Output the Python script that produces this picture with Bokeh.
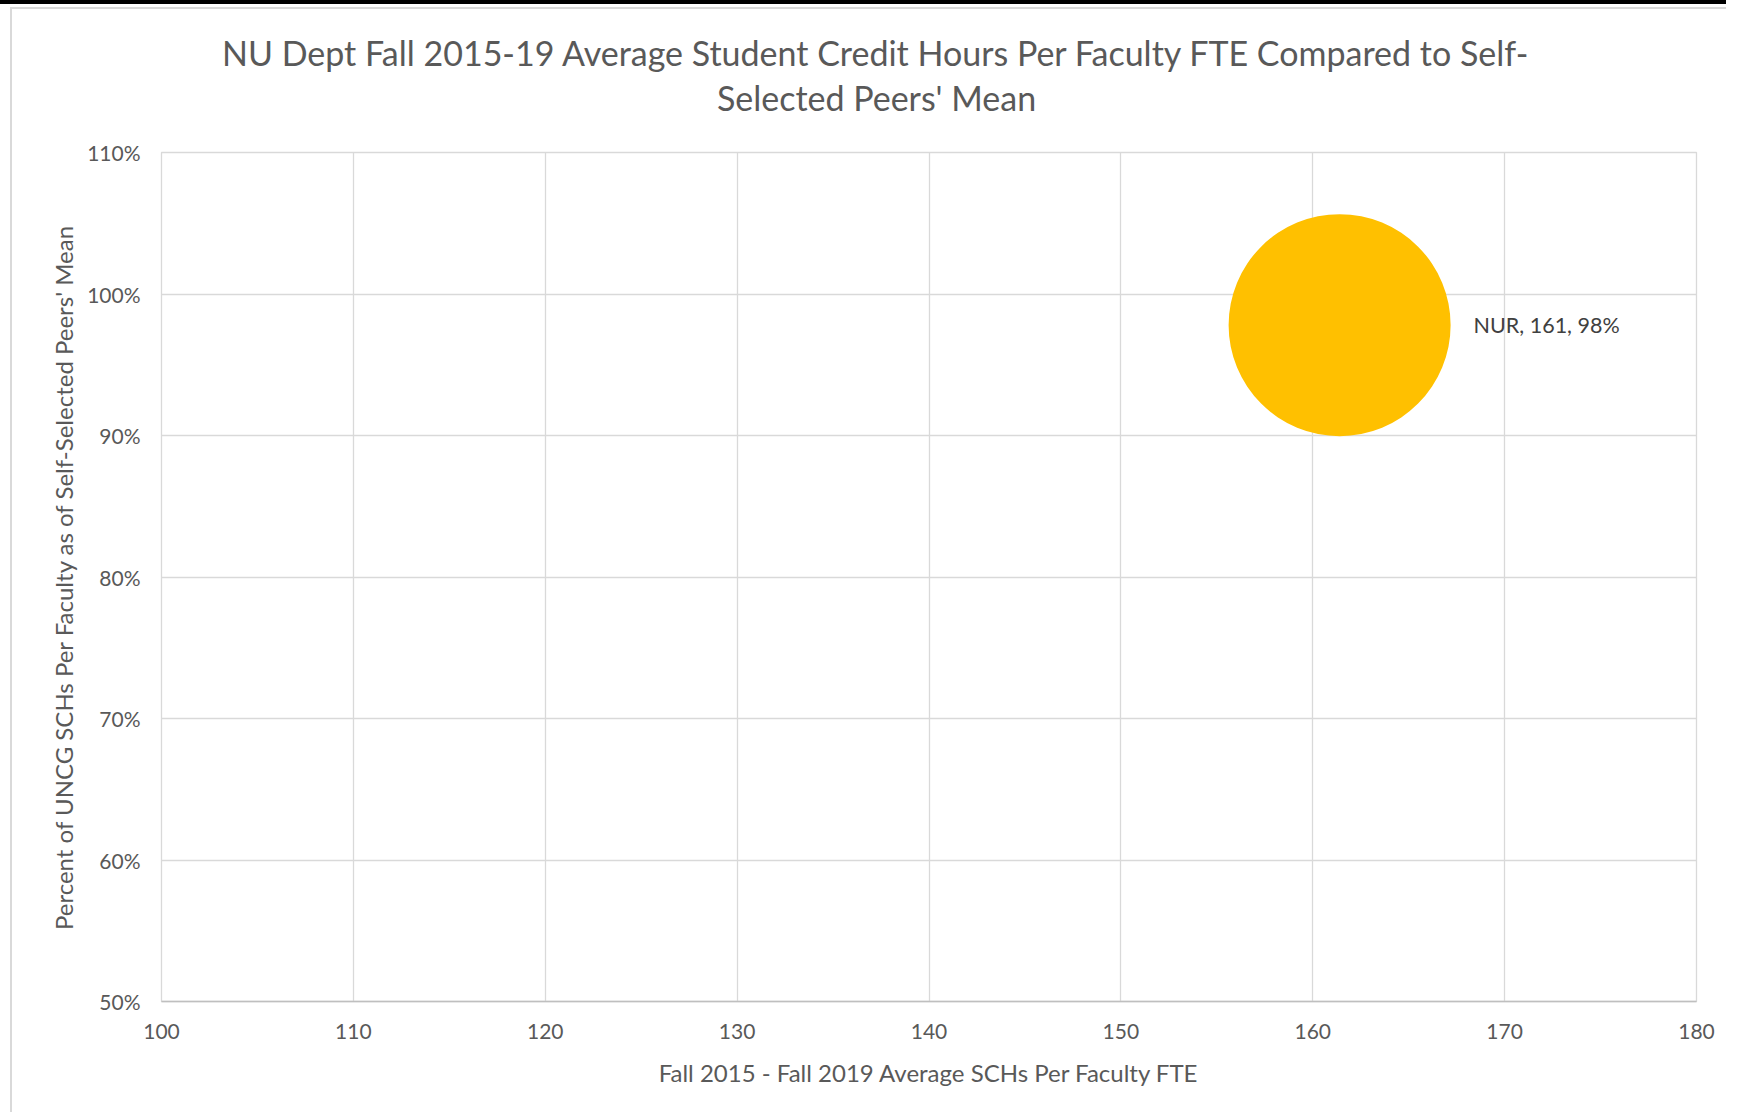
from bokeh.plotting import figure
from bokeh.layouts import column
from bokeh.models import Range1d, FixedTicker, NumeralTickFormatter, ColumnDataSource
from bokeh.core.properties import value
from bokeh.embed import file_html
from bokeh.resources import INLINE

# ---- data ----
departments = ["NUR"]
sch_per_fte = [161.4]
pct_of_peer_mean = [0.978]

x_ticks = [100, 110, 120, 130, 140, 150, 160, 170, 180]
y_ticks = [0.5, 0.6, 0.7, 0.8, 0.9, 1.0, 1.1]

title_lines = [
    "NU Dept Fall 2015-19 Average Student Credit Hours Per Faculty FTE Compared to Self-",
    "Selected Peers' Mean",
]
x_title = "Fall 2015 - Fall 2019 Average SCHs Per Faculty FTE"
y_title = "Percent of UNCG SCHs Per Faculty as of Self-Selected Peers' Mean"

point_labels = [f"{d}, {round(x)}, {round(y * 100)}%"
                for d, x, y in zip(departments, sch_per_fte, pct_of_peer_mean)]

# ---- style / layout (page pixels) ----
FONT = "Lato"
TEXT = "#595959"
GRID = "#D9D9D9"
BUBBLE = "#FFC000"
OX, OY = 12, 9            # content origin inside the chart border
W = 1714                  # content width
FRAME_L, FRAME_R, FRAME_T, FRAME_B = 161, 1696, 152, 1001
TOP_PAD = 20
BOTTOM_PAD = 111
TITLE_H = FRAME_T - TOP_PAD - OY

# ---- title strip (x/y in page pixels, y downward) ----
tf = figure(width=W, height=TITLE_H,
            x_range=Range1d(FRAME_L, FRAME_R), y_range=Range1d(OY + TITLE_H, OY),
            x_axis_location=None, y_axis_location=None, min_border=0,
            output_backend="svg", toolbar_location=None)
tf.grid.visible = False
tf.outline_line_color = None
tf.background_fill_color = "white"
tf.border_fill_color = "white"
tf.text(x=[876, 876], y=[51.5, 97], text=title_lines,
        text_align="center", text_baseline="middle",
        text_font=value(FONT), text_font_size="34px", text_color=TEXT)

# ---- main chart ----
p = figure(
    width=W, height=FRAME_B - FRAME_T + TOP_PAD + BOTTOM_PAD,
    x_range=Range1d(x_ticks[0], x_ticks[-1]),
    y_range=Range1d(y_ticks[0], y_ticks[-1]),
    output_backend="svg", toolbar_location=None,
    min_border_left=FRAME_L - OX, min_border_right=W + OX - FRAME_R,
    min_border_top=TOP_PAD, min_border_bottom=BOTTOM_PAD,
)
p.background_fill_color = "white"
p.border_fill_color = "white"
p.outline_line_color = GRID
p.outline_line_width = 1.3

p.xaxis.ticker = FixedTicker(ticks=x_ticks)
p.yaxis.ticker = FixedTicker(ticks=y_ticks)
p.yaxis.formatter = NumeralTickFormatter(format="0%")

for ax in (p.xaxis, p.yaxis):
    ax.major_tick_in = 0
    ax.major_tick_out = 0
    ax.minor_tick_line_color = None
    ax.major_label_text_font = FONT
    ax.major_label_text_font_size = "21px"
    ax.major_label_text_color = TEXT
    ax.axis_label_text_font = FONT
    ax.axis_label_text_font_size = "24px"
    ax.axis_label_text_font_style = "normal"
    ax.axis_label_text_color = TEXT

p.xaxis.axis_line_color = "#BFBFBF"
p.xaxis.axis_line_width = 1.5
p.yaxis.axis_line_color = None
p.xaxis.major_label_standoff = 22
p.yaxis.major_label_standoff = 21
p.xaxis.axis_label = x_title
p.yaxis.axis_label = y_title
p.xaxis.axis_label_standoff = 16
p.yaxis.axis_label_standoff = 6

p.xgrid.grid_line_color = GRID
p.ygrid.grid_line_color = GRID
p.xgrid.grid_line_width = 1.3
p.ygrid.grid_line_width = 1.3

src = ColumnDataSource(dict(x=sch_per_fte, y=pct_of_peer_mean, label=point_labels))
p.circle(x="x", y="y", radius=111, radius_units="screen", source=src,
         fill_color=BUBBLE, line_color=None)
p.text(x="x", y="y", text="label", source=src, x_offset=134,
       text_align="left", text_baseline="middle",
       text_font=value(FONT), text_font_size="21.5px", text_color="#404040")

chart = column(tf, p, spacing=0, margin=(3, 0, 0, 10),
               styles={"border-left": "2px solid #D9D9D9", "border-top": "2px solid #D9D9D9"})
page = column(chart, spacing=0, styles={"border-top": "4px solid black"})
open("out.html", "w").write(file_html(page, INLINE))
